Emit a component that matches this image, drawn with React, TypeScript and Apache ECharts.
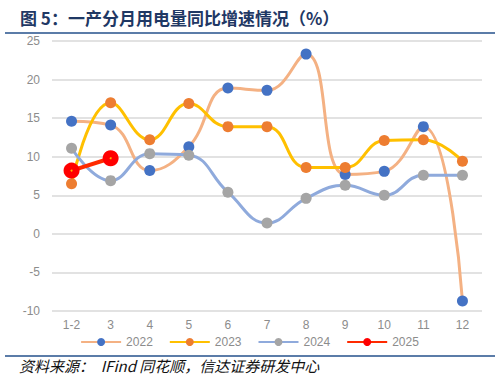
import React, { useEffect, useRef } from "react";
import * as echarts from "echarts";

const categories = ["1-2", "3", "4", "5", "6", "7", "8", "9", "10", "11", "12"];
const s2022 = [14.6, 14.1, 8.2, 11.3, 18.9, 18.6, 23.3, 7.7, 8.1, 13.9, -8.7];
const s2023 = [6.5, 17.0, 12.2, 16.9, 13.9, 13.9, 8.6, 8.6, 12.1, 12.2, 9.4];
const s2024 = [11.1, 6.9, 10.4, 10.2, 5.4, 1.4, 4.6, 6.3, 5.0, 7.6, 7.6];
const s2025 = [8.2, 9.8];
const yTicks = { min: -10, max: 25, interval: 5 };

const FONT = "'Liberation Sans', Arial, 'Noto Sans CJK SC', sans-serif";

export default function App() {
  const ref = useRef<HTMLDivElement>(null);
  useEffect(() => {
    if (!ref.current) return;
    const chart = echarts.init(ref.current, undefined, { renderer: "svg" });
    chart.setOption({
      animation: false,
      backgroundColor: "#ffffff",
      textStyle: { fontFamily: FONT },
      title: {
        text: "图 5：一产分月用电量同比增速情况（%）",
        left: 15,
        top: 4,
        textStyle: {
          fontFamily: "'Noto Sans CJK SC', sans-serif",
          fontSize: 17,
          fontWeight: "bold",
          color: "#1F3864",
        },
      },
      graphic: [
        { type: "line", shape: { x1: 5, y1: 33, x2: 495, y2: 33 }, style: { stroke: "#5B7CA8", lineWidth: 2 } },
        { type: "line", shape: { x1: 5, y1: 356, x2: 495, y2: 356 }, style: { stroke: "#5B7CA8", lineWidth: 2 } },
        {
          type: "text",
          left: 19,
          top: 358,
          style: {
            text: "资料来源：  IFind 同花顺，信达证券研发中心",
            fontFamily: "'Noto Sans CJK SC', sans-serif",
            fontStyle: "italic",
            fontSize: 15,
            fill: "#111111",
          },
        },
      ],
      grid: { left: 52, right: 17, top: 41, bottom: 70 },
      legend: {
        bottom: 28,
        left: "center",
        itemWidth: 40,
        itemHeight: 10,
        itemGap: 16,
        textStyle: { color: "#8C8C8C", fontSize: 12, fontFamily: FONT },
        data: ["2022", "2023", "2024", "2025"],
      },
      xAxis: {
        type: "category",
        data: categories,
        boundaryGap: true,
        axisLine: { show: false },
        axisTick: { show: false },
        axisLabel: { color: "#8C8C8C", fontSize: 12, margin: 8 },
      },
      yAxis: {
        type: "value",
        min: yTicks.min,
        max: yTicks.max,
        interval: yTicks.interval,
        axisLine: { show: false },
        axisTick: { show: false },
        axisLabel: { color: "#8C8C8C", fontSize: 12, margin: 12 },
        splitLine: { lineStyle: { color: "#D9D9D9", width: 1.5 } },
      },
      series: [
        {
          name: "2022",
          type: "line",
          data: s2022,
          smooth: 0.45,
          symbol: "circle",
          symbolSize: 11,
          lineStyle: { color: "#F4B183", width: 3 },
          itemStyle: { color: "#4472C4" },
          z: 2,
        },
        {
          name: "2023",
          type: "line",
          data: s2023,
          smooth: 0.45,
          symbol: "circle",
          symbolSize: 11,
          lineStyle: { color: "#FFC000", width: 3 },
          itemStyle: { color: "#ED7D31" },
          z: 3,
        },
        {
          name: "2024",
          type: "line",
          data: s2024,
          smooth: 0.45,
          symbol: "circle",
          symbolSize: 11,
          lineStyle: { color: "#8FAADC", width: 3 },
          itemStyle: { color: "#A5A5A5" },
          z: 4,
        },
        {
          name: "2025",
          type: "line",
          data: s2025,
          smooth: false,
          symbol: "circle",
          symbolSize: 16,
          lineStyle: { color: "#FF2A00", width: 4 },
          itemStyle: { color: "#FF0000" },
          z: 5,
        },
        {
          name: "2025c",
          type: "scatter",
          data: s2025,
          symbol: "circle",
          symbolSize: 2,
          itemStyle: { color: "#FFE000" },
          z: 6,
          silent: true,
        },
      ],
    });
    return () => chart.dispose();
  }, []);
  return (
    <div
      ref={ref}
      style={{ position: "fixed", left: 0, top: 0, width: 499, height: 381 }}
    />
  );
}
